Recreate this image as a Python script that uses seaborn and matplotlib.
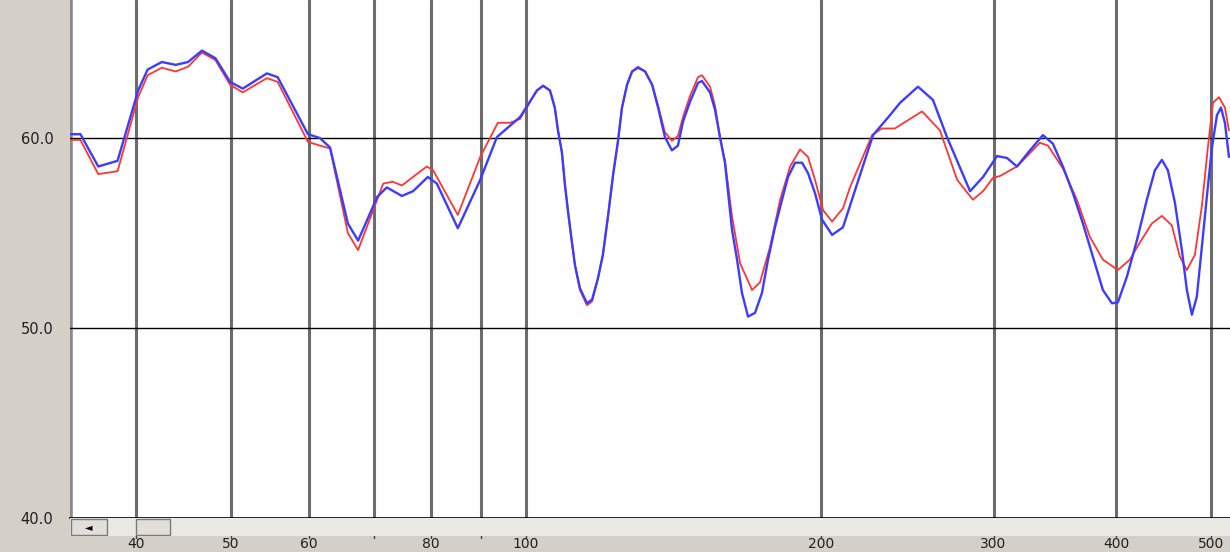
"""plot.py - two response curves on a log frequency axis, old-style window look."""

import matplotlib
matplotlib.use("Agg")
import matplotlib.pyplot as plt
from matplotlib.patches import Rectangle
import pandas as pd
import seaborn as sns

# values
freq_blue = [34.3, 35.1, 36.6, 38.3, 40.2, 41.1, 42.5, 43.9, 45.2, 46.7, 48.2, 49.9,
             51.4, 54.4, 55.8, 59.9, 61.6, 63.1, 65.8, 67.4, 70.5, 72.1, 74.7, 76.7,
             79.4, 81.1, 85.2, 89.8, 93.4, 98.6, 100.9, 102.6, 104.1, 105.8, 107.0,
             107.8, 108.8, 109.6, 110.4, 111.4, 112.2, 113.5, 115.4, 116.8, 118.4,
             119.8, 121.3, 122.7, 124.1, 125.3, 126.8, 128.3, 130.1, 132.3, 134.5,
             136.4, 138.6, 140.9, 142.9, 144.6, 147.0, 149.8, 151.2, 154.1, 155.9,
             157.8, 159.6, 160.8, 162.3, 164.2, 166.1, 168.5, 171.3, 174.1, 176.6,
             179.5, 182.5, 185.1, 188.2, 191.3, 194.0, 197.2, 200.5, 205.3, 210.6,
             226.0, 235.2, 240.8, 251.2, 260.2, 268.9, 283.9, 292.7, 302.5, 309.6,
             317.0, 326.8, 336.9, 344.9, 353.1, 361.5, 370.1, 378.9, 387.9, 396.2,
             401.8, 410.4, 420.1, 430.1, 438.3, 445.5, 451.9, 459.4, 467.0, 472.5,
             478.1, 483.7, 489.4, 495.2, 501.2, 507.1, 511.9, 516.7, 521.6]
spl_blue = [60.2, 60.2, 58.5, 58.8, 62.5, 63.6, 64.0, 63.85, 64.0, 64.6, 64.2, 62.95,
            62.6, 63.4, 63.2, 60.2, 60.0, 59.5, 55.5, 54.6, 56.9, 57.4, 56.95, 57.2,
            57.95, 57.6, 55.25, 57.8, 60.05, 61.1, 61.9, 62.5, 62.75, 62.5, 61.6,
            60.4, 59.25, 57.5, 56.1, 54.5, 53.3, 52.1, 51.3, 51.5, 52.6,
            53.85, 55.95, 58.05, 59.8, 61.6, 62.8, 63.5, 63.7, 63.5, 62.8,
            61.6, 60.05, 59.35, 59.6, 60.85, 61.9, 62.9, 63.0, 62.4, 61.5,
            60.0, 58.7, 57.1, 55.15, 53.6, 51.85, 50.6, 50.8, 51.85, 53.6,
            55.3, 56.75, 57.95, 58.7, 58.7, 58.15, 57.1, 55.7, 54.9, 55.3,
            60.15, 61.2, 61.85, 62.7, 62.0, 60.05, 57.2, 57.95, 59.05, 58.95,
            58.5, 59.35, 60.15, 59.7, 58.5, 57.1, 55.5, 53.75, 52.0, 51.3,
            51.35, 52.7, 54.6, 56.75, 58.3, 58.85, 58.3, 56.6, 54.1, 52.0,
            50.7, 51.65, 54.25, 56.9, 59.5, 61.2, 61.6, 60.8, 59.0]

freq_red = [34.3, 35.1, 36.6, 38.3, 40.2, 41.1, 42.5, 43.9, 45.2, 46.7, 48.2, 49.9,
            51.4, 54.4, 55.8, 59.9, 61.6, 63.1, 65.8, 67.4, 71.5, 73.1, 74.7, 79.2,
            80.4, 85.2, 89.8, 93.6, 96.3, 98.6, 100.9, 102.6, 104.1, 105.8, 107.0,
            107.8, 108.8, 109.6, 110.4, 111.4, 112.2, 113.5, 115.4, 116.8, 118.4,
            119.8, 121.3, 122.7, 124.1, 125.3, 126.8, 128.3, 130.1, 132.3, 134.5,
            136.4, 138.6, 140.9, 142.9, 144.6, 147.0, 149.8, 151.2, 154.1, 155.9,
            157.8, 159.6, 162.3, 165.4, 170.1, 173.3, 177.4, 181.7, 186.0, 190.4,
            194.0, 197.2, 201.0, 205.3, 210.6, 214.1, 225.5, 230.8, 237.9, 253.6,
            264.5, 275.4, 285.8, 292.7, 299.6, 304.6, 317.0, 334.5, 340.9, 353.1,
            364.9, 376.2, 387.9, 401.8, 413.3, 423.1, 435.2, 445.5, 456.1, 464.8,
            472.5, 481.5, 489.4, 496.4, 502.4, 509.5, 516.7, 521.6]
spl_red = [59.9, 59.9, 58.1, 58.25, 62.15, 63.3, 63.7, 63.5, 63.75, 64.5, 64.1, 62.8,
           62.4, 63.15, 62.95, 59.8, 59.6, 59.45, 55.0, 54.1, 57.6, 57.7, 57.5, 58.5,
           58.3, 55.95, 59.0, 60.8, 60.8, 61.0, 61.9, 62.5, 62.75, 62.5, 61.6,
           60.4, 59.25, 57.5, 56.1, 54.5, 53.3, 52.0, 51.2, 51.4, 52.6,
           53.85, 55.95, 58.05, 59.8, 61.6, 62.8, 63.5, 63.75, 63.5, 62.8,
           61.7, 60.3, 59.85, 60.1, 61.1, 62.2, 63.2, 63.3, 62.7, 61.7,
           60.0, 58.8, 55.85, 53.4, 52.0, 52.4, 54.25, 56.75, 58.5, 59.4,
           59.0, 57.8, 56.2, 55.6, 56.3, 57.4, 60.15, 60.5, 60.5, 61.4,
           60.4, 57.8, 56.75, 57.2, 57.9, 58.0, 58.5, 59.75, 59.6, 58.4,
           56.75, 54.8, 53.6, 53.05, 53.6, 54.5, 55.5, 55.9, 55.4, 53.75,
           53.05, 53.85, 56.4, 59.5, 61.85, 62.15, 61.6, 60.4]

grid_freqs = [40, 50, 60, 70, 80, 90, 100, 200, 300, 400, 500]
label_freqs = [40, 50, 60, 80, 100, 200, 300, 400, 500]
level_lines = [50, 60]
y_ticks = [40, 50, 60]

df = pd.concat([
    pd.DataFrame({"freq": freq_red, "spl": spl_red, "serie": "rouge"}),
    pd.DataFrame({"freq": freq_blue, "spl": spl_blue, "serie": "bleu"}),
])

sns.set_style("white")
PANEL = "#d4d0c8"

W, H = 1230, 552
fig = plt.figure(figsize=(W / 100, H / 100), dpi=100, facecolor=PANEL)
ax = fig.add_axes([70 / W, (H - 518) / H, 1 - 70 / W, 518 / H])
ax.set_facecolor("white")

ax.set_xscale("log")
ax.set_xlim(34.25, 522.9)
ax.set_ylim(40, 40 + 518 / 19)

for f in grid_freqs:
    ax.axvline(f, color="#6c6c6c", lw=2.2, zorder=1)
ax.axvline(34.25, color="#8a8a8a", lw=4, zorder=1)
for y in level_lines:
    ax.axhline(y, color="black", lw=1.0, zorder=1)

sns.lineplot(data=df, x="freq", y="spl", hue="serie", sort=False,
             palette={"rouge": "#ff3535", "bleu": "#3c3cff"},
             linewidth=1.3, legend=False, ax=ax, zorder=3)
ax.lines[-1].set_linewidth(1.7)

for s in ax.spines.values():
    s.set_visible(False)
ax.spines["bottom"].set_visible(True)
ax.spines["bottom"].set_color("black")
ax.spines["bottom"].set_linewidth(1.2)

ax.set_yticks(y_ticks)
ax.set_yticklabels([f"{v:.1f}" for v in y_ticks])
ax.set_xticks(label_freqs)
ax.set_xticklabels([str(f) for f in label_freqs])
ax.set_xticks([70, 90], minor=True)
ax.tick_params(axis="x", which="both", length=0, pad=14, labelsize=10,
               labelcolor="#202020")
ax.tick_params(axis="y", length=0, pad=12, labelsize=10.5, labelcolor="#202020")
ax.set_xlabel("")
ax.set_ylabel("")

# bande de défilement sous le tracé
sb = fig.add_axes([70 / W, (H - 536) / H, 1 - 70 / W, 18 / H])
sb.set_xlim(70, W)
sb.set_ylim(0, 18)
sb.axis("off")
sb.add_patch(Rectangle((70, 0), W - 70, 18, color="#ebe9e3", zorder=0))
sb.add_patch(Rectangle((71, 1), 36, 16, facecolor="#e2dfd8", edgecolor="#7a7a7a",
                       lw=1, zorder=1))
sb.add_patch(Rectangle((136, 1), 34, 16, facecolor="#e2dfd8", edgecolor="#7a7a7a",
                       lw=1, zorder=1))
sb.text(89, 9, "◄", ha="center", va="center", fontsize=7, color="black")

# petits traits de graduation sous la bande
for f in grid_freqs:
    ax.plot([f, f], [-16 / 518, -20 / 518], transform=ax.get_xaxis_transform(),
            color="#404040", lw=1, clip_on=False)

fig.savefig("out.png", dpi=100, facecolor=PANEL)
plt.close(fig)
